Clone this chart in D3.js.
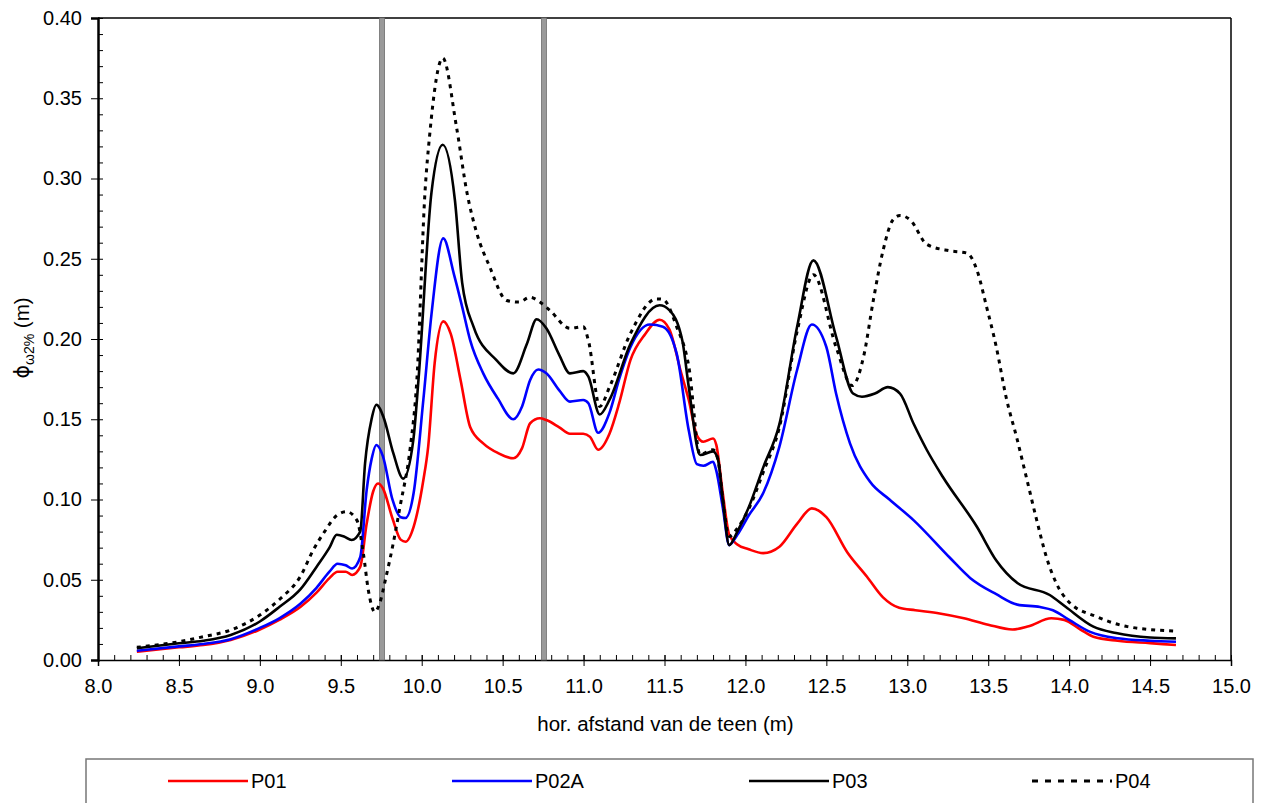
<!DOCTYPE html>
<html><head><meta charset="utf-8">
<script src="https://cdn.jsdelivr.net/npm/d3@7"></script>
<style>
body{margin:0;background:#fff;}
svg{display:block;font-family:"Liberation Sans",Arial,sans-serif;}
</style></head>
<body><svg id="c" width="1267" height="803"></svg>
<script>
// ---- data ----
const xTicks = [8.0,8.5,9.0,9.5,10.0,10.5,11.0,11.5,12.0,12.5,13.0,13.5,14.0,14.5,15.0];
const yTicks = [0,0.05,0.10,0.15,0.20,0.25,0.30,0.35,0.40];
const markers = [9.755, 10.755];
const seriesNames = ["P01","P02A","P03","P04"];

const p01X = [8.24,8.5,8.65,8.82,9.0,9.12,9.25,9.35,9.43,9.48,9.53,9.57,9.62,9.66,9.7,9.73,9.76,9.82,9.87,9.9,9.95,10.01,10.04,10.08,10.133,10.18,10.24,10.3,10.38,10.47,10.566,10.62,10.67,10.73,10.77,10.85,10.916,10.998,11.04,11.09,11.16,11.22,11.29,11.38,11.47,11.53,11.6,11.65,11.7,11.74,11.8,11.82,11.86,11.9,11.95,12.02,12.11,12.21,12.32,12.41,12.5,12.63,12.75,12.85,12.95,13.05,13.2,13.35,13.5,13.65,13.75,13.89,13.97,14.07,14.15,14.3,14.5,14.66];
const p01Y = [0.0052,0.0079,0.0093,0.0125,0.019,0.025,0.033,0.042,0.051,0.055,0.055,0.053,0.058,0.085,0.105,0.110,0.107,0.088,0.075,0.0737,0.083,0.112,0.133,0.185,0.211,0.203,0.1745,0.145,0.135,0.129,0.1257,0.132,0.1475,0.1506,0.1495,0.145,0.141,0.141,0.139,0.131,0.141,0.16,0.187,0.203,0.212,0.206,0.18,0.162,0.14,0.136,0.138,0.134,0.104,0.078,0.072,0.069,0.0666,0.0706,0.085,0.0945,0.089,0.067,0.052,0.039,0.0325,0.031,0.029,0.026,0.022,0.019,0.021,0.026,0.025,0.019,0.0145,0.012,0.0105,0.0093];

const p02X = [8.24,8.5,8.65,8.82,9.0,9.12,9.25,9.35,9.43,9.48,9.53,9.57,9.62,9.66,9.69,9.72,9.76,9.82,9.87,9.9,9.95,10.01,10.06,10.133,10.2,10.25,10.3,10.38,10.47,10.566,10.62,10.67,10.72,10.77,10.85,10.916,10.998,11.03,11.09,11.16,11.22,11.29,11.41,11.49,11.575,11.65,11.7,11.74,11.8,11.82,11.86,11.9,11.95,12.02,12.11,12.21,12.32,12.41,12.5,12.56,12.646,12.77,12.89,13.04,13.26,13.39,13.55,13.68,13.82,13.9,14.0,14.13,14.3,14.5,14.66];
const p02Y = [0.0058,0.0085,0.0100,0.013,0.020,0.026,0.035,0.045,0.055,0.060,0.059,0.057,0.064,0.106,0.125,0.134,0.127,0.0997,0.089,0.0885,0.104,0.162,0.215,0.2627,0.24,0.22,0.199,0.1786,0.163,0.150,0.158,0.1745,0.181,0.1786,0.168,0.161,0.162,0.160,0.1416,0.154,0.175,0.195,0.209,0.2077,0.191,0.143,0.122,0.121,0.1235,0.118,0.095,0.0716,0.078,0.09,0.104,0.133,0.181,0.209,0.195,0.166,0.135,0.111,0.1,0.087,0.064,0.051,0.041,0.0345,0.033,0.031,0.025,0.0175,0.0135,0.012,0.0114];

const p03X = [8.24,8.5,8.65,8.82,9.0,9.12,9.25,9.35,9.43,9.475,9.52,9.567,9.62,9.65,9.69,9.72,9.763,9.824,9.886,9.948,9.98,10.06,10.13,10.205,10.25,10.32,10.46,10.566,10.65,10.71,10.77,10.85,10.916,10.998,11.03,11.1,11.16,11.29,11.47,11.53,11.61,11.65,11.72,11.8,11.83,11.86,11.9,11.95,12.02,12.11,12.21,12.32,12.42,12.56,12.665,12.72,12.8,12.88,12.955,13.04,13.12,13.22,13.43,13.55,13.68,13.88,13.98,14.15,14.29,14.5,14.66];
const p03Y = [0.0073,0.0104,0.012,0.0156,0.024,0.033,0.044,0.058,0.070,0.078,0.077,0.0748,0.080,0.1225,0.150,0.159,0.1516,0.129,0.113,0.137,0.1745,0.291,0.321,0.2866,0.235,0.2077,0.187,0.1786,0.197,0.2123,0.2067,0.19,0.1786,0.180,0.1765,0.153,0.162,0.197,0.221,0.218,0.199,0.170,0.1277,0.130,0.125,0.10,0.0716,0.080,0.095,0.120,0.147,0.208,0.249,0.2015,0.166,0.164,0.166,0.170,0.166,0.147,0.131,0.114,0.083,0.062,0.048,0.0405,0.033,0.0208,0.0168,0.014,0.0135];

const p04X = [8.24,8.5,8.65,8.82,9.0,9.124,9.25,9.33,9.4,9.475,9.536,9.60,9.64,9.67,9.71,9.74,9.78,9.824,9.866,9.93,9.97,10.02,10.05,10.13,10.215,10.28,10.34,10.42,10.525,10.6,10.67,10.73,10.79,10.916,10.998,11.03,11.1,11.16,11.29,11.45,11.49,11.575,11.65,11.72,11.8,11.83,11.86,11.9,11.95,12.02,12.11,12.21,12.32,12.42,12.56,12.66,12.73,12.79,12.85,12.91,12.955,13.02,13.12,13.26,13.37,13.43,13.49,13.55,13.61,13.68,13.74,13.80,13.86,13.92,14.0,14.17,14.36,14.66];
const p04Y = [0.0079,0.0114,0.0145,0.0187,0.028,0.038,0.052,0.0685,0.080,0.090,0.0924,0.087,0.066,0.0436,0.030,0.0353,0.052,0.0727,0.0955,0.133,0.1745,0.291,0.328,0.375,0.332,0.291,0.266,0.245,0.224,0.223,0.226,0.223,0.218,0.2067,0.2077,0.199,0.158,0.170,0.2035,0.225,0.2247,0.2077,0.183,0.128,0.131,0.125,0.10,0.077,0.082,0.094,0.117,0.145,0.205,0.240,0.195,0.171,0.189,0.224,0.255,0.274,0.277,0.274,0.259,0.255,0.2535,0.243,0.220,0.195,0.164,0.137,0.112,0.087,0.064,0.048,0.036,0.027,0.0208,0.018];

// ---- chart ----
const svg = d3.select("#c");
const L = 98, R = 1231, T = 18, B = 660;
const x = d3.scaleLinear().domain([8,15]).range([L,R]);
const y = d3.scaleLinear().domain([0,0.4]).range([B,T]);

const series = [
  {name:seriesNames[0], xs:p01X, ys:p01Y, color:"#ff0000", dash:null},
  {name:seriesNames[1], xs:p02X, ys:p02Y, color:"#0000ff", dash:null},
  {name:seriesNames[2], xs:p03X, ys:p03Y, color:"#000000", dash:null},
  {name:seriesNames[3], xs:p04X, ys:p04Y, color:"#000000", dash:"4,5"}
];

// frame top / right
svg.append("line").attr("x1",L).attr("x2",R).attr("y1",T).attr("y2",T).attr("stroke","#000").attr("stroke-width",1.5);
svg.append("line").attr("x1",R).attr("x2",R).attr("y1",T).attr("y2",B).attr("stroke","#000").attr("stroke-width",1.5);

// axes
const minorX = d3.range(80,151).map(v=>v/10);
const gx = svg.append("g").attr("transform",`translate(0,${B})`);
gx.append("g").call(d3.axisBottom(x).tickValues(minorX).tickSize(-5).tickFormat(""))
  .call(g=>g.select(".domain").remove()).selectAll("line").attr("stroke","#000");
gx.append("g").call(d3.axisBottom(x).tickValues(xTicks).tickSize(6).tickPadding(13).tickFormat(d3.format(".1f")))
  .call(g=>{g.select(".domain").attr("stroke","#000").attr("stroke-width",1.5);
    g.selectAll("text").attr("font-size",20).attr("font-family","Liberation Sans, Arial, sans-serif").attr("fill","#000");
    g.selectAll("line").attr("y1",-5);});

const minorY = d3.range(0,41).map(v=>v/100);
const gy = svg.append("g").attr("transform",`translate(${L},0)`);
gy.append("g").call(d3.axisRight(y).tickValues(minorY).tickSize(5).tickFormat(""))
  .call(g=>g.select(".domain").remove()).selectAll("line").attr("stroke","#000");
gy.append("g").call(d3.axisLeft(y).tickValues(yTicks).tickSize(7).tickPadding(9).tickFormat(d3.format(".2f")))
  .call(g=>{g.select(".domain").attr("stroke","#000").attr("stroke-width",2.5);
    g.selectAll("text").attr("font-size",20).attr("font-family","Liberation Sans, Arial, sans-serif").attr("fill","#000");});

// vertical marker bars
svg.selectAll(".mk").data(markers).join("rect").attr("class","mk")
  .attr("x",d=>x(d)-2.5).attr("width",5).attr("y",T).attr("height",B-T)
  .attr("fill","#9a9a9a").attr("stroke","#6e6e6e").attr("stroke-width",0.8);

// lines
series.forEach(s=>{
  const pts = s.xs.map((v,i)=>[v,s.ys[i]]);
  const line = d3.line().x(d=>x(d[0])).y(d=>y(d[1])).curve(d3.curveMonotoneX);
  svg.append("path").datum(pts).attr("d",line).attr("fill","none")
    .attr("stroke",s.color).attr("stroke-width",s.dash?3:2.6)
    .attr("stroke-dasharray",s.dash).attr("stroke-linejoin","round");
});

// axis titles
svg.append("text").attr("x",(L+R)/2 + 1).attr("y",731).attr("text-anchor","middle")
  .attr("font-size",20.5).attr("fill","#000").text("hor. afstand van de teen (m)");
const yt = svg.append("text").attr("transform","translate(29,338) rotate(-90)").attr("text-anchor","middle")
  .attr("font-size",20.5).attr("fill","#000");
yt.append("tspan").attr("font-family","DejaVu Sans").text("\u03D5");
yt.append("tspan").attr("font-size",14).attr("dy",5).text("\u03C92%");
yt.append("tspan").attr("dy",-5).text(" (m)");

// legend
svg.append("rect").attr("x",86).attr("y",759).attr("width",1167).attr("height",60)
  .attr("fill","#fff").attr("stroke","#777").attr("stroke-width",1.5);
const legX = [168,452,749,1032];
series.forEach((s,i)=>{
  const g = svg.append("g").attr("transform",`translate(${legX[i]},781)`);
  g.append("line").attr("x1",0).attr("x2",80).attr("stroke",s.color).attr("stroke-width",s.dash?3:2.6).attr("stroke-dasharray",s.dash?"6,7":null);
  g.append("text").attr("x",83).attr("y",7).attr("font-size",20).attr("fill","#000").text(s.name);
});
</script></body></html>
